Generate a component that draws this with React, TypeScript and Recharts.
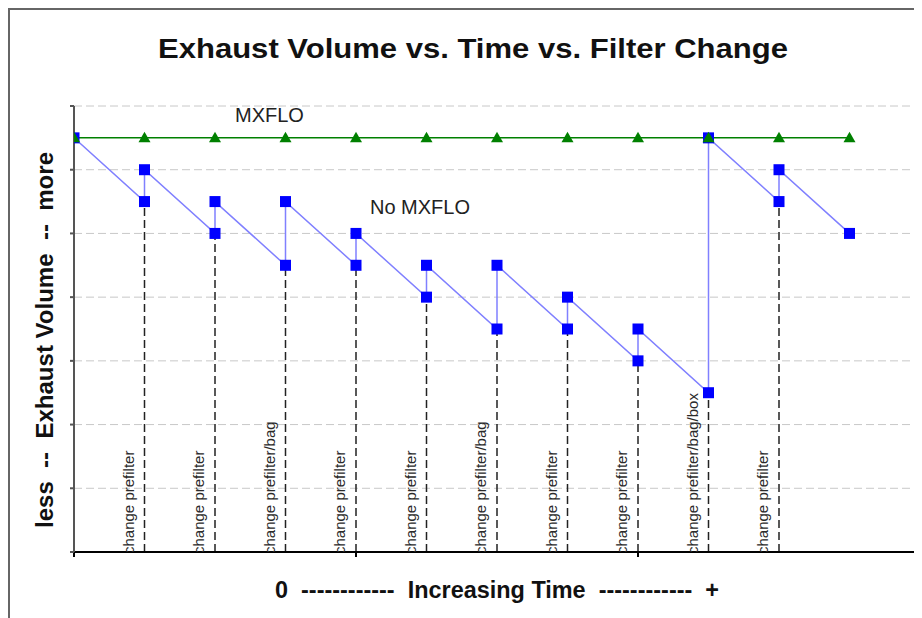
import {
  ComposedChart,
  Line,
  Scatter,
  XAxis,
  YAxis,
  CartesianGrid,
  ReferenceLine,
} from "recharts";

const FONT = "'Liberation Sans', Arial, sans-serif";

// time steps (filter change happens at steps 1..10)
const steps = [0, 1, 2, 3, 4, 5, 6, 7, 8, 9, 10, 11];
// exhaust volume just before a change, and right after it
const noMxfloBefore = [6.5, 5.5, 5.0, 4.5, 4.5, 4.0, 3.5, 3.5, 3.0, 2.5, 5.5, 5.0];
const noMxfloAfter = [null, 6.0, 5.5, 5.5, 5.0, 4.5, 4.5, 4.0, 3.5, 6.5, 6.0, null];
const mxfloValues = [6.5, 6.5, 6.5, 6.5, 6.5, 6.5, 6.5, 6.5, 6.5, 6.5, 6.5, 6.5];
const changeLabels = [
  "",
  "change prefilter",
  "change prefilter",
  "change prefilter/bag",
  "change prefilter",
  "change prefilter",
  "change prefilter/bag",
  "change prefilter",
  "change prefilter",
  "change prefilter/bag/box",
  "change prefilter",
  "",
];
const xTicks = [0, 4, 8, 12];
const yTicks = [0, 1, 2, 3, 4, 5, 6, 7];

const noMxflo: { x: number; y: number }[] = [];
steps.forEach((s, i) => {
  noMxflo.push({ x: s, y: noMxfloBefore[i] });
  if (noMxfloAfter[i] != null) noMxflo.push({ x: s, y: noMxfloAfter[i] as number });
});
const mxflo = steps.map((s, i) => ({ x: s, y: mxfloValues[i] }));
const changes = steps
  .map((s, i) => ({ x: s, y: 0, top: noMxfloBefore[i], label: changeLabels[i] }))
  .filter((d) => d.label);

const Square = (props: any) => {
  const { cx, cy } = props;
  if (cx == null || cy == null) return null;
  return <rect x={cx - 5.5} y={cy - 5.5} width={11} height={11} fill="#0000ff" />;
};

const Triangle = (props: any) => {
  const { cx, cy } = props;
  if (cx == null || cy == null) return null;
  return (
    <path
      d={`M${cx},${cy - 6} L${cx + 6},${cy + 4.5} L${cx - 6},${cy + 4.5} Z`}
      fill="#008000"
    />
  );
};

const ChangeLabel = (props: any) => {
  const { cx, cy, payload } = props;
  if (cx == null || cy == null) return null;
  const x = cx - 11;
  const y = cy + 2;
  return (
    <text
      x={x}
      y={y}
      transform={`rotate(-90 ${x} ${y})`}
      fontFamily={FONT}
      fontSize={15}
      fill="#2a2a2a"
    >
      {payload.label}
    </text>
  );
};

export default function App() {
  return (
    <div
      style={{
        width: 914,
        height: 610,
        borderLeft: "2px solid #666",
        borderTop: "2px solid #666",
        boxSizing: "border-box",
        background: "#fff",
      }}
    >
      <ComposedChart
        width={912}
        height={608}
        margin={{ top: 96, right: 2, left: 0, bottom: 36 }}
      >
        <CartesianGrid
          horizontal
          vertical={false}
          stroke="#c8c8c8"
          strokeDasharray="8 4"
        />
        <XAxis
          type="number"
          dataKey="x"
          domain={[0, 12]}
          ticks={xTicks}
          tickFormatter={() => ""}
          stroke="#000"
          strokeWidth={2}
          tickSize={5}
          height={30}
          allowDataOverflow
        />
        <YAxis
          type="number"
          dataKey="y"
          domain={[0, 7]}
          ticks={yTicks}
          tickFormatter={() => ""}
          stroke="#555"
          strokeWidth={2}
          tickSize={4}
          width={64}
          allowDataOverflow
        />
        {changes.map((c) => (
          <ReferenceLine
            key={c.x}
            segment={[
              { x: c.x, y: 0 },
              { x: c.x, y: c.top },
            ]}
            stroke="#222"
            strokeWidth={1.5}
            strokeDasharray="8 4"
          />
        ))}
        <Scatter
          data={changes}
          dataKey="y"
          shape={ChangeLabel}
          isAnimationActive={false}
        />
        <Line
          data={noMxflo}
          dataKey="y"
          type="linear"
          stroke="#8080ff"
          strokeWidth={1.5}
          dot={Square}
          activeDot={false}
          isAnimationActive={false}
        />
        <Line
          data={mxflo}
          dataKey="y"
          type="linear"
          stroke="#008000"
          strokeWidth={1.5}
          dot={Triangle}
          activeDot={false}
          isAnimationActive={false}
        />
        <text
          x={463}
          y={48}
          textAnchor="middle"
          fontFamily={FONT}
          fontWeight="bold"
          fontSize={28}
          textLength={630}
          lengthAdjust="spacingAndGlyphs"
          fill="#111"
        >
          Exhaust Volume vs. Time vs. Filter Change
        </text>
        <text x={225} y={112} fontFamily={FONT} fontSize={20} fill="#222">
          MXFLO
        </text>
        <text x={360} y={204} fontFamily={FONT} fontSize={20} fill="#222">
          No MXFLO
        </text>
        <text
          x={487}
          y={588}
          textAnchor="middle"
          xmlSpace="preserve"
          fontFamily={FONT}
          fontWeight="bold"
          fontSize={23}
          textLength={444}
          lengthAdjust="spacingAndGlyphs"
          fill="#111"
        >
          {"0  ------------  Increasing Time  ------------  +"}
        </text>
        <text
          x={43}
          y={330}
          transform="rotate(-90 43 330)"
          textAnchor="middle"
          xmlSpace="preserve"
          fontFamily={FONT}
          fontWeight="bold"
          fontSize={24}
          textLength={376}
          lengthAdjust="spacingAndGlyphs"
          fill="#111"
        >
          {"less  --  Exhaust Volume  --  more"}
        </text>
      </ComposedChart>
    </div>
  );
}
